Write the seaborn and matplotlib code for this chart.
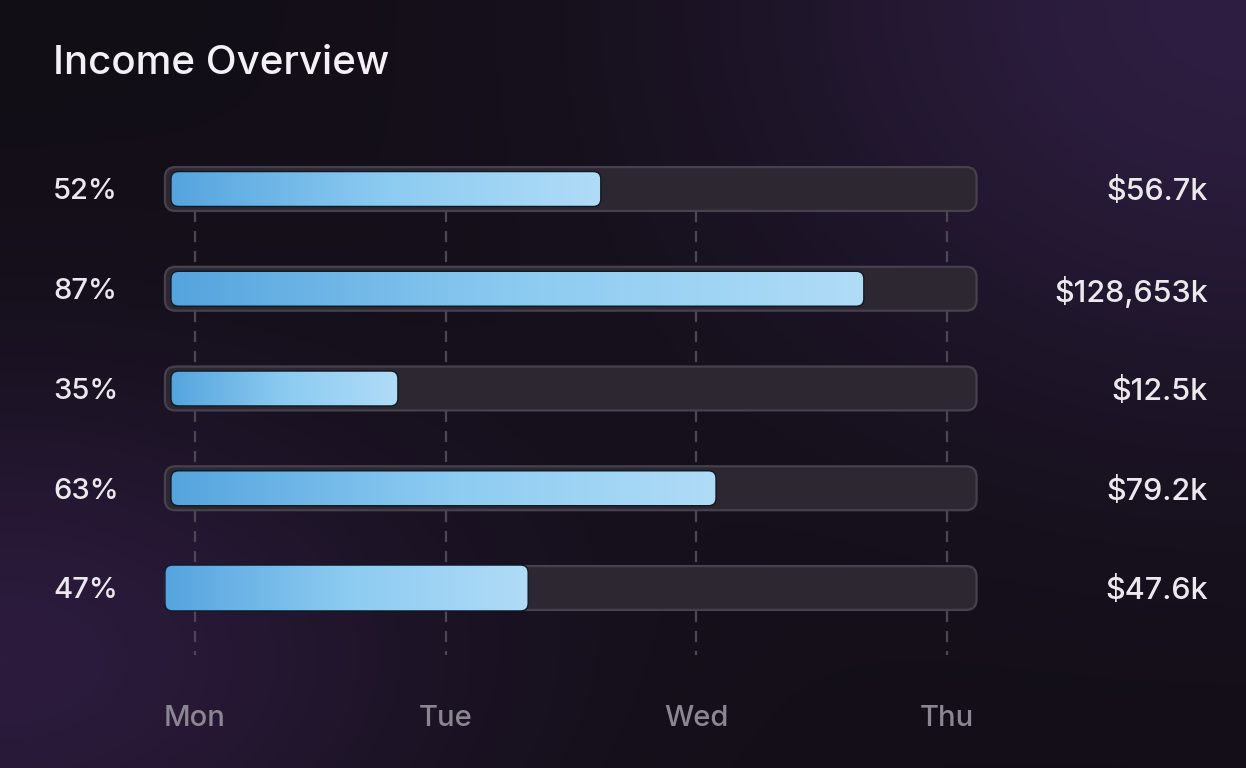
import numpy as np
import pandas as pd
import matplotlib
matplotlib.use("Agg")
import matplotlib.pyplot as plt
import seaborn as sns
from matplotlib.patches import FancyBboxPatch
from matplotlib.colors import LinearSegmentedColormap, to_rgb
from matplotlib.transforms import blended_transform_factory

# data
pct_labels = ["52%", "87%", "35%", "63%", "47%"]
amount_labels = ["$56.7k", "$128,653k", "$12.5k", "$79.2k", "$47.6k"]
fill_end = [1.62, 2.67, 0.81, 2.08, 1.33]   # in day units, Mon = 0
days = ["Mon", "Tue", "Wed", "Thu"]

# per-row fill styling (last bar is drawn flush with its track)
fill_start = [-0.096, -0.096, -0.096, -0.096, -0.12]
fill_height = [0.35, 0.35, 0.35, 0.35, 0.46]

track_start, track_end = -0.12, 3.12
track_height = 0.44

sns.set_theme(style="dark")
plt.rcParams["font.family"] = ["Inter", "DejaVu Sans"]

W, H = 1246, 768
fig = plt.figure(figsize=(W / 100, H / 100), dpi=100)

# background with purple glows in the corners
bg = fig.add_axes([0, 0, 1, 1], zorder=-10)
yy, xx = np.mgrid[0:H, 0:W]
base = np.array(to_rgb("#120e16"))
glow_tr = np.array(to_rgb("#2e1e42")) - base
glow_bl = np.array(to_rgb("#2c1b3d")) - base
d_tr = np.exp(-(((xx - W) / 520.0) ** 2 + ((yy - 0) / 420.0) ** 2))
d_bl = np.exp(-(((xx - 0) / 450.0) ** 2 + ((yy - 660) / 280.0) ** 2))
img = base + d_tr[..., None] * glow_tr + d_bl[..., None] * glow_bl
bg.imshow(np.clip(img, 0, 1), aspect="auto", extent=[0, 1, 0, 1])
bg.set_axis_off()

ax = fig.add_axes([0, 0, 1, 1])
ax.patch.set_alpha(0)

df = pd.DataFrame({"row": list(range(len(fill_end))), "end": fill_end})
sns.barplot(data=df, x="end", y="row", orient="h", ax=ax, width=0.35,
            color="#7fbfed", saturation=1)

# x: Mon at 195px, 250.5px per day; y: first row at 189px, 99.75px per row
px_x, px_y = 250.5, 99.75
xlim = (-195 / px_x, (W - 195) / px_x)
ylim = ((H - 189) / px_y, -189 / px_y)
aspect = px_x / px_y

bar_cmap = LinearSegmentedColormap.from_list("bar", ["#55a4de", "#8ccbf1", "#b0dcf7"])
grad = np.linspace(0, 1, 256).reshape(1, -1)

bars = list(ax.patches)
for i, p in enumerate(bars):
    yc = p.get_y() + p.get_height() / 2
    end = p.get_width()
    p.remove()

    track = FancyBboxPatch((track_start, yc - track_height / 2),
                           track_end - track_start, track_height,
                           boxstyle="round,pad=0,rounding_size=0.042",
                           mutation_aspect=aspect,
                           facecolor="#2c2731", edgecolor="#46414c",
                           linewidth=1.6, zorder=2)
    ax.add_patch(track)

    h = fill_height[i]
    x0 = fill_start[i]
    fill = FancyBboxPatch((x0, yc - h / 2), end - x0, h,
                          boxstyle="round,pad=0,rounding_size=0.03",
                          mutation_aspect=aspect,
                          facecolor="none", edgecolor="#0d1a26",
                          linewidth=1.0, zorder=4)
    ax.add_patch(fill)
    im = ax.imshow(grad, cmap=bar_cmap, aspect="auto",
                   extent=[x0, end, yc + h / 2, yc - h / 2], zorder=3)
    im.set_clip_path(fill)

# dashed day guides behind the bars
for d in range(len(days)):
    ax.plot([d, d], [0.22, 4.67], color="#4c4853", linewidth=1.6,
            linestyle=(0, (5, 4)), zorder=1)

ax.set_xlim(*xlim)
ax.set_ylim(*ylim)
ax.set_axis_off()

fig_x = blended_transform_factory(fig.transFigure, ax.transData)
for i in range(len(pct_labels)):
    ax.text(53 / W, i + 0.03, pct_labels[i], transform=fig_x, ha="left",
            va="center", fontsize=21, fontweight="medium", color="#ebe9ee")
    ax.text(1208 / W, i + 0.03, amount_labels[i], transform=fig_x, ha="right",
            va="center", fontsize=22, fontweight="medium", color="#ebe9ee")

for d, name in enumerate(days):
    ax.text(d, (718 - 189) / px_y, name, ha="center", va="center",
            fontsize=21, fontweight="medium", color="#8b8691")

fig.text(53 / W, 1 - 64 / H, "Income Overview", ha="left", va="center",
         fontsize=29, fontweight="medium", color="#f3f1f5")

fig.savefig("out.png", dpi=100)
plt.close(fig)
